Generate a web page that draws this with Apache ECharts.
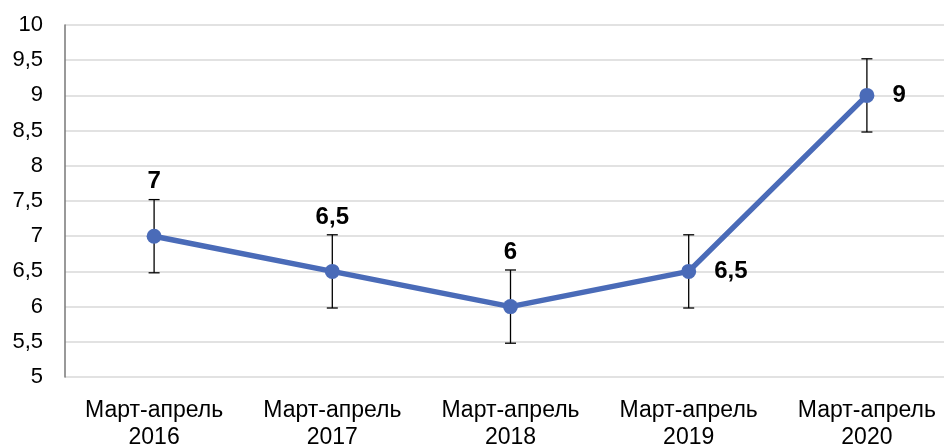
<!DOCTYPE html>
<html>
<head>
<meta charset="utf-8">
<script src="https://cdn.jsdelivr.net/npm/echarts@6/dist/echarts.min.js"></script>
<style>
html,body{margin:0;padding:0;background:#fff;overflow:hidden;width:944px;height:448px;}
#chart{width:970px;height:448px;}
</style>
</head>
<body>
<div id="chart"></div>
<script>
var categories = ['Март-апрель\n2016', 'Март-апрель\n2017', 'Март-апрель\n2018', 'Март-апрель\n2019', 'Март-апрель\n2020'];
var values = [7, 6.5, 6, 6.5, 9];
var errors = [0.52, 0.52, 0.52, 0.52, 0.52];
var labelPositions = ['top', 'top', 'top', 'right', 'right'];

var fmt = function (v) { return String(v).replace('.', ','); };

var chart = echarts.init(document.getElementById('chart'));
var font = '"Liberation Sans", Arial, Helvetica, sans-serif';

var option = {
  animation: false,
  backgroundColor: '#fff',
  grid: { left: 65, top: 25, width: 891, height: 352, containLabel: false, outerBoundsMode: 'none' },
  xAxis: {
    type: 'category',
    data: categories,
    boundaryGap: true,
    axisLine: { show: false },
    axisTick: { show: false },
    axisLabel: { interval: 0, color: '#000', fontSize: 23, fontFamily: font, lineHeight: 27, margin: 20 }
  },
  yAxis: {
    type: 'value',
    min: 5, max: 10, interval: 0.5,
    axisLine: { show: true, lineStyle: { color: '#777', width: 1.5 } },
    axisTick: { show: false },
    splitLine: { lineStyle: { color: '#d9d9d9', width: 1.5 } },
    axisLabel: { color: '#000', fontSize: 22, fontFamily: font, margin: 22, formatter: function (v) { return fmt(v); } }
  },
  series: [
    {
      type: 'custom',
      z: 1,
      data: values.map(function (v, i) { return [i, v - errors[i], v + errors[i]]; }),
      renderItem: function (params, api) {
        var i = api.value(0);
        var lo = api.coord([i, api.value(1)]);
        var hi = api.coord([i, api.value(2)]);
        var w = 5.5;
        var style = { stroke: '#000', lineWidth: 1.3 };
        return {
          type: 'group',
          children: [
            { type: 'line', shape: { x1: hi[0], y1: hi[1], x2: lo[0], y2: lo[1] }, style: style },
            { type: 'line', shape: { x1: hi[0] - w, y1: hi[1], x2: hi[0] + w, y2: hi[1] }, style: style },
            { type: 'line', shape: { x1: lo[0] - w, y1: lo[1], x2: lo[0] + w, y2: lo[1] }, style: style }
          ]
        };
      }
    },
    {
      type: 'line',
      z: 2,
      data: values.map(function (v, i) {
        return {
          value: v,
          label: { position: labelPositions[i], distance: labelPositions[i] === 'top' ? 35 : 18 }
        };
      }),
      symbol: 'circle',
      symbolSize: 15,
      lineStyle: { color: '#4a6bb8', width: 5.5 },
      itemStyle: { color: '#4a6bb8' },
      label: {
        show: true,
        color: '#000',
        fontSize: 24,
        fontWeight: 'bold',
        fontFamily: font,
        formatter: function (p) { return fmt(p.value); }
      }
    }
  ]
};
chart.setOption(option);
</script>
</body>
</html>
